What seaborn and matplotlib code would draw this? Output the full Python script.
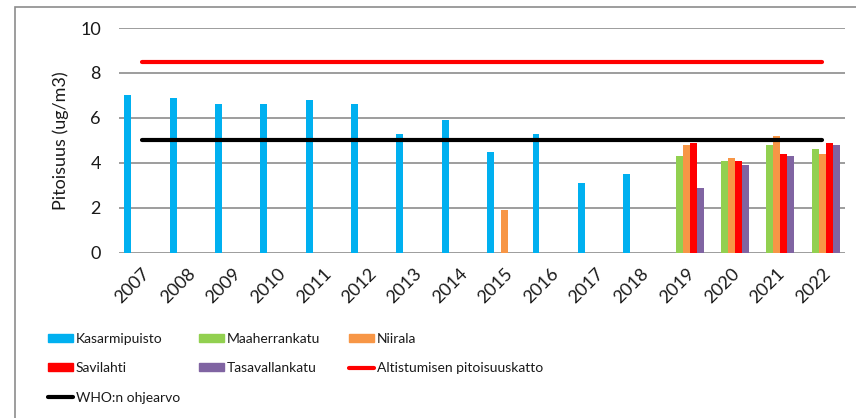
import numpy as np
import pandas as pd
import seaborn as sns
import matplotlib.pyplot as plt
from matplotlib.patches import Patch, Rectangle
from matplotlib.lines import Line2D

years = [str(y) for y in range(2007, 2023)]
stations = ['Kasarmipuisto', 'Maaherrankatu', 'Niirala', 'Savilahti', 'Tasavallankatu']
colors = ['#00B0F0', '#92D050', '#F79646', '#FF0000', '#8064A2']

# values per station, NaN where no measurement
kasarmipuisto = [7.0, 6.9, 6.6, 6.6, 6.8, 6.6, 5.3, 5.9, 4.5, 5.3, 3.1, 3.5, np.nan, np.nan, np.nan, np.nan]
maaherrankatu = [np.nan]*12 + [4.3, 4.1, 4.8, 4.6]
niirala = [np.nan]*8 + [1.9] + [np.nan]*3 + [4.8, 4.2, 5.2, 4.4]
savilahti = [np.nan]*12 + [4.9, 4.1, 4.4, 4.9]
tasavallankatu = [np.nan]*12 + [2.9, 3.9, 4.3, 4.8]

exposure_cap = [8.5]*len(years)   # Altistumisen pitoisuuskatto
who_guide = [5.0]*len(years)      # WHO:n ohjearvo

series = dict(zip(stations, [kasarmipuisto, maaherrankatu, niirala, savilahti, tasavallankatu]))
rows = []
for st, vals in series.items():
    for yr, v in zip(years, vals):
        if not np.isnan(v):
            rows.append({'Vuosi': yr, 'Asema': st, 'Pitoisuus': v})
df = pd.DataFrame(rows)

sns.set_style('white')
plt.rcParams['font.family'] = ['Lato', 'DejaVu Sans']
txt = '#1a1a1a'

fig = plt.figure(figsize=(8.56, 4.18), dpi=100)
ax = fig.add_axes([0.139, 0.395, 0.848, 0.538])

sns.barplot(data=df, x='Vuosi', y='Pitoisuus', hue='Asema', order=years,
            hue_order=stations, palette=colors, saturation=1, width=0.77, gap=0,
            linewidth=0, errorbar=None, ax=ax, legend=False)

xs = np.arange(len(years))
ax.plot(xs, exposure_cap, color='#FF0000', lw=3, solid_capstyle='round')
ax.plot(xs, who_guide, color='black', lw=3, solid_capstyle='round')

ax.set_xlim(-0.5, len(years) - 0.5)
ax.set_ylim(0, 10)
ax.set_yticks(range(0, 11, 2))
ax.grid(axis='y', color='#8C8C8C', lw=1.2)
ax.set_axisbelow(True)
for s in ax.spines.values():
    s.set_visible(False)
ax.tick_params(axis='both', length=0, labelsize=13, colors=txt)
ax.tick_params(axis='y', pad=13)
ax.tick_params(axis='x', pad=9)
plt.setp(ax.get_xticklabels(), rotation=45, ha='right', rotation_mode='anchor')
ax.set_xlabel('')
ax.set_ylabel('Pitoisuus (ug/m3)', fontsize=13, color=txt, labelpad=8)

# legend laid out as three columns, filled row by row like the original
leg_cols = [
    [Patch(color=colors[0], label='Kasarmipuisto'),
     Patch(color=colors[3], label='Savilahti'),
     Line2D([], [], color='black', lw=3, solid_capstyle='round', label='WHO:n ohjearvo')],
    [Patch(color=colors[1], label='Maaherrankatu'),
     Patch(color=colors[4], label='Tasavallankatu')],
    [Patch(color=colors[2], label='Niirala'),
     Line2D([], [], color='#FF0000', lw=3, solid_capstyle='round', label='Altistumisen pitoisuuskatto')],
]
for x0, hs in zip([48, 199, 349], leg_cols):
    leg = fig.legend(handles=hs, loc='upper left', bbox_to_anchor=(x0 / 856, 1 - 333 / 418),
                     frameon=False, fontsize=10, handlelength=1.8, handleheight=0.5,
                     handletextpad=0.2, labelspacing=1.25, borderpad=0, borderaxespad=0)
    for t in leg.get_texts():
        t.set_color(txt)

fig.patches.append(Rectangle((15 / 856, -0.1), 1.0, 1 - 7 / 418 + 0.1,
                             transform=fig.transFigure, fill=False,
                             edgecolor='#8C8C8C', lw=1.2))

fig.savefig('out.png', dpi=100)
